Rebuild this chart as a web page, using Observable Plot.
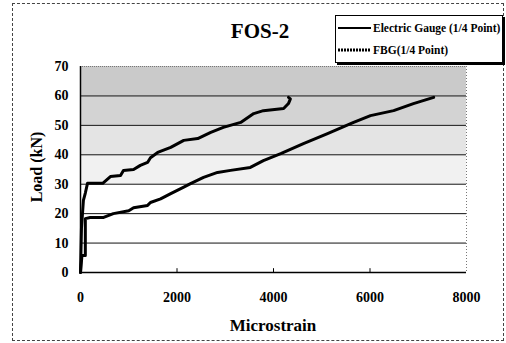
<!DOCTYPE html>
<html>
<head>
<meta charset="utf-8">
<script src="https://cdn.jsdelivr.net/npm/d3@7"></script>
<script src="https://cdn.jsdelivr.net/npm/@observablehq/plot@0.6"></script>
<style>
  html, body { margin: 0; padding: 0; background: #fff; }
  #wrap { position: relative; width: 506px; height: 343px; overflow: hidden; font-family: "Liberation Serif", "Times New Roman", serif; font-weight: bold; color: #000; }
  #border { position: absolute; left: 12px; top: 3px; width: 492px; height: 338px; border: 1px dashed #444; box-sizing: border-box; }
  #chart { position: absolute; left: 0; top: 0; }
  #title { position: absolute; left: 200px; width: 120px; top: 19px; text-align: center; font-size: 21px; line-height: 24px; }
  #ylabel { position: absolute; left: 37px; top: 167px; transform: translate(-50%, -50%) rotate(-90deg); font-size: 16px; white-space: nowrap; }
  #xlabel { position: absolute; left: 200px; width: 146px; top: 316px; text-align: center; font-size: 17px; line-height: 20px; }
  #legend { position: absolute; left: 335px; top: 15px; width: 166px; height: 46px; border: 1px solid #000; box-shadow: 2px 2px 0 #000; background: #fff; font-family: "Liberation Serif", serif; font-weight: bold; font-size: 11.5px; }
  .row { position: absolute; left: 2px; height: 14px; display: flex; align-items: center; white-space: nowrap; }
  .row svg { margin-right: 2px; }
</style>
</head>
<body>
<div id="wrap">
  <div id="border"></div>
  <div id="chart"></div>
  <div id="title"></div>
  <div id="ylabel"></div>
  <div id="xlabel"></div>
  <div id="legend"></div>
</div>
<script>
// ---- data ----
const chartTitle = "FOS-2";
const xTitle = "Microstrain";
const yTitle = "Load (kN)";
const seriesNames = ["Electric Gauge (1/4 Point)", "FBG(1/4 Point)"];

const xTicks = [0, 2000, 4000, 6000, 8000];
const yTicks = [0, 10, 20, 30, 40, 50, 60, 70];

// Electric Gauge (1/4 Point)
const gaugeStrain = [0, 30, 100, 100, 200, 480, 680, 1000, 1100, 1390, 1450, 1660, 1870, 2140, 2280, 2550, 2840, 3110, 3520, 3790, 4150, 4620, 5120, 5660, 6010, 6490, 6900, 7320];
const gaugeLoad   = [0, 5.8, 5.8, 18.3, 18.7, 18.7, 20, 21, 22, 22.8, 23.8, 25, 26.8, 29, 30.2, 32.3, 34, 34.7, 35.7, 38, 40.4, 43.8, 47.2, 51, 53.3, 55, 57.4, 59.5];

// FBG (1/4 Point)
const fbgStrain = [0, 20, 60, 100, 145, 460, 620, 830, 890, 1100, 1240, 1390, 1450, 1600, 1870, 2140, 2430, 2700, 2960, 3320, 3590, 3790, 4210, 4310, 4350, 4310];
const fbgLoad   = [0, 15, 24.5, 27, 30.3, 30.3, 32.6, 33, 34.7, 35, 36.4, 37.4, 39, 40.8, 42.5, 44.9, 45.5, 47.6, 49.3, 51, 54, 55, 55.7, 57.4, 59, 59.5];

// scanned background bands (lower / upper load bounds)
const bandLo = [30, 40, 50, 60];
const bandHi = [40, 50, 60, 70];

// ---- build ----
const gauge = gaugeStrain.map((x, i) => ({x, y: gaugeLoad[i]}));
const fbg = fbgStrain.map((x, i) => ({x, y: fbgLoad[i]}));
const bands = bandLo.map((lo, i) => ({lo, hi: bandHi[i]}));
const bandShades = ["#f1f1f1", "#e4e4e4", "#d3d3d3", "#cacaca"];

const plot = Plot.plot({
  width: 506,
  height: 343,
  marginLeft: 80,
  marginRight: 40,
  marginTop: 66,
  marginBottom: 71,
  x: {domain: [0, 8000]},
  y: {domain: [0, 70]},
  style: {fontFamily: "'Liberation Serif', 'Times New Roman', serif", fontWeight: "bold", fontSize: "14px", background: "transparent", color: "#000"},
  marks: [
    Plot.rect(bands, {x1: () => 0, x2: () => 8000, y1: "lo", y2: "hi", fill: (d, i) => bandShades[i]}),
    Plot.ruleY(yTicks.filter(v => v > 0 && v < 70), {stroke: "#111", strokeWidth: 1}),
    Plot.ruleY([70], {stroke: "#777", strokeDasharray: "1,1"}),
    Plot.ruleX([8000], {stroke: "#777", strokeDasharray: "1,2"}),
    Plot.ruleX([0], {stroke: "#000", strokeWidth: 1.5}),
    Plot.ruleY([0], {stroke: "#000", strokeWidth: 1.5}),
    Plot.ruleX(xTicks.slice(1, -1), {y1: 0, y2: 1.3, stroke: "#000"}),
    Plot.axisX(xTicks, {tickSize: 0, tickPadding: 20, label: null, fontSize: 14, tickFormat: d3.format("d")}),
    Plot.axisY(yTicks, {tickSize: 0, tickPadding: 12, label: null, fontSize: 14, tickFormat: d3.format("d")}),
    Plot.line(gauge, {x: "x", y: "y", stroke: "#000", strokeWidth: 3, strokeLinejoin: "round"}),
    Plot.line(fbg, {x: "x", y: "y", stroke: "#000", strokeWidth: 3, strokeLinejoin: "round"})
  ]
});
document.getElementById("chart").appendChild(plot);

document.getElementById("title").textContent = chartTitle;
document.getElementById("ylabel").textContent = yTitle;
document.getElementById("xlabel").textContent = xTitle;

const legend = document.getElementById("legend");
const dashes = [null, "2,1"];
const tops = [5, 27];
seriesNames.forEach((name, i) => {
  const row = document.createElement("div");
  row.className = "row";
  row.style.top = tops[i] + "px";
  const dash = dashes[i] ? ` stroke-dasharray="${dashes[i]}"` : "";
  row.innerHTML = `<svg width="33" height="6"><line x1="0" y1="3" x2="33" y2="3" stroke="#000" stroke-width="${i ? 3 : 2}"${dash}/></svg><span>${name}</span>`;
  legend.appendChild(row);
});
</script>
</body>
</html>
